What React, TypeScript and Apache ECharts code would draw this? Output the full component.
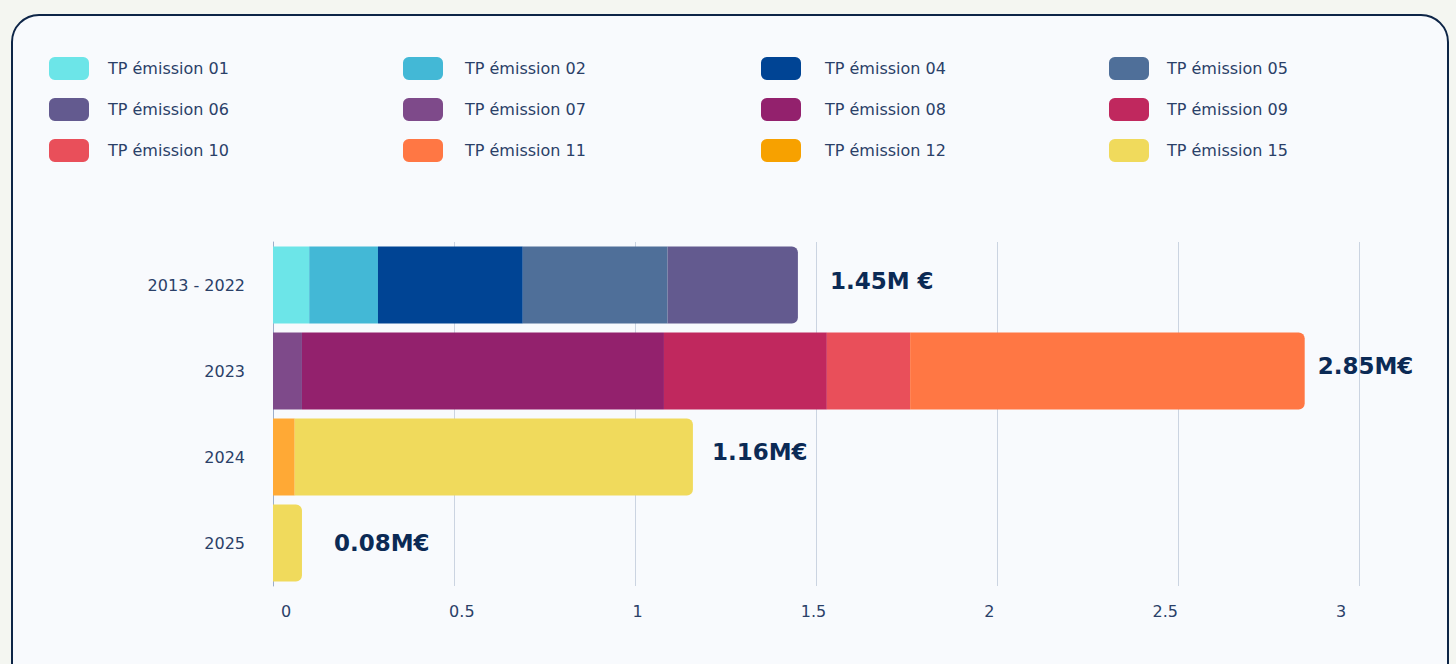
import React, { useEffect, useRef } from "react";
import * as echarts from "echarts";

const categories = ["2013 - 2022", "2023", "2024", "2025"];
const seriesNames = [
  "TP émission 01", "TP émission 02", "TP émission 04", "TP émission 05",
  "TP émission 06", "TP émission 07", "TP émission 08", "TP émission 09",
  "TP émission 10", "TP émission 11", "TP émission 12", "TP émission 15",
];
const seriesColors = [
  "#6CE5E8", "#43B8D6", "#004494", "#4F6F99",
  "#635A8F", "#7E4A8A", "#93216D", "#C0285E",
  "#E94F5A", "#FF7744", "#FFA935", "#F0DA5C",
];
const legendColors = [
  "#6CE5E8", "#43B8D6", "#004494", "#4F6F99",
  "#635A8F", "#7E4A8A", "#93216D", "#C0285E",
  "#E94F5A", "#FF7744", "#F7A100", "#F0DA5C",
];
// values in M€, per category (null = absent)
const v01 = [0.1, null, null, null];
const v02 = [0.19, null, null, null];
const v04 = [0.4, null, null, null];
const v05 = [0.4, null, null, null];
const v06 = [0.36, null, null, null];
const v07 = [null, 0.08, null, null];
const v08 = [null, 1.0, null, null];
const v09 = [null, 0.45, null, null];
const v10 = [null, 0.23, null, null];
const v11 = [null, 1.09, null, null];
const v12 = [null, null, 0.06, null];
const v15 = [null, null, 1.1, 0.08];
const allValues = [v01, v02, v04, v05, v06, v07, v08, v09, v10, v11, v12, v15];
const totalLabels = ["1.45M €", "2.85M€", "1.16M€", "0.08M€"];
const labelDistances = [32, 13, 19, 32];
const labelOffsets = [-4, -5, -5, 0];
const xTicks = [0, 0.5, 1, 1.5, 2, 2.5, 3];

const FONT = "'DejaVu Sans', sans-serif";
const TEXT = "#2A4068";

function lastSeriesIndex(cat: number): number {
  let last = -1;
  allValues.forEach((arr, i) => {
    if (arr[cat] != null) last = i;
  });
  return last;
}

export default function App() {
  const ref = useRef<HTMLDivElement>(null);
  useEffect(() => {
    if (!ref.current) return;
    const chart = echarts.init(ref.current, null, { renderer: "svg" });
    const lastIdx = categories.map((_, c) => lastSeriesIndex(c));
    const series = seriesNames.map((name, si) => ({
      name,
      type: "bar",
      stack: "total",
      barWidth: 77,
      xAxisIndex: 0,
      yAxisIndex: 0,
      itemStyle: { color: seriesColors[si] },
      data: allValues[si].map((val, c) => {
        if (val == null) return null;
        if (lastIdx[c] === si) {
          return {
            value: val,
            itemStyle: { borderRadius: [0, 6, 6, 0] },
            label: {
              show: true,
              position: "right",
              distance: labelDistances[c],
              formatter: totalLabels[c],
              fontFamily: FONT,
              fontWeight: "bold",
              fontSize: 23,
              color: "#0B2A55",
              offset: [0, labelOffsets[c]],
            },
          };
        }
        return val;
      }),
    }));

    const columns = [0, 1, 2, 3];
    const colX = [49, 403, 761, 1109];
    const textPad = [14, 17, 19, 13];
    const legends = columns.map((col) => ({
      orient: "vertical",
      left: colX[col],
      top: 57,
      padding: 0,
      itemWidth: 40,
      itemHeight: 23,
      itemGap: 18,
      icon: "roundRect",
      selectedMode: false,
      textStyle: { fontFamily: FONT, fontSize: 16, color: TEXT, padding: [0, 0, 0, textPad[col]] },
      data: [0, 1, 2].map((row) => {
        const idx = row * 4 + col;
        return { name: seriesNames[idx], itemStyle: { color: legendColors[idx] } };
      }),
    }));

    chart.setOption({
      animation: false,
      legend: legends,
      grid: [
        { left: 273, right: 97, top: 242, height: 344, containLabel: false },
        { left: 286, right: 115, top: 242, height: 344, containLabel: false },
      ],
      xAxis: [
        {
          type: "value",
          gridIndex: 0,
          min: 0,
          max: 3,
          interval: 0.5,
          axisLabel: { show: false },
          axisLine: { show: false },
          axisTick: { show: false },
          splitLine: { show: true, lineStyle: { color: "#CBD4E1", width: 1 } },
        },
        {
          type: "value",
          gridIndex: 1,
          min: 0,
          max: 3,
          interval: 0.5,
          axisLabel: {
            show: true,
            fontFamily: FONT,
            fontSize: 16,
            color: TEXT,
            margin: 17,
            formatter: (v: number) => (xTicks.indexOf(v) >= 0 ? String(v) : ""),
          },
          axisLine: { show: false },
          axisTick: { show: false },
          splitLine: { show: false },
        },
      ],
      yAxis: [
        {
          type: "category",
          gridIndex: 0,
          inverse: true,
          data: categories,
          axisLine: { show: true, lineStyle: { color: "#9DAECA", width: 1 } },
          axisTick: { show: false },
          axisLabel: { fontFamily: FONT, fontSize: 16, color: TEXT, margin: 28 },
        },
        {
          type: "category",
          gridIndex: 1,
          inverse: true,
          data: categories,
          show: false,
        },
      ],
      series,
    });
    return () => chart.dispose();
  }, []);

  return (
    <div style={{ position: "fixed", left: 0, top: 0, width: 1456, height: 664, background: "#F4F6F1", overflow: "hidden" }}>
      <div
        style={{
          position: "absolute",
          left: 11,
          top: 14,
          width: 1434,
          height: 700,
          border: "2px solid #0D2547",
          borderRadius: 28,
          background: "#F8FAFD",
        }}
      />
      <div ref={ref} style={{ position: "absolute", left: 0, top: 0, width: 1456, height: 664 }} />
    </div>
  );
}
